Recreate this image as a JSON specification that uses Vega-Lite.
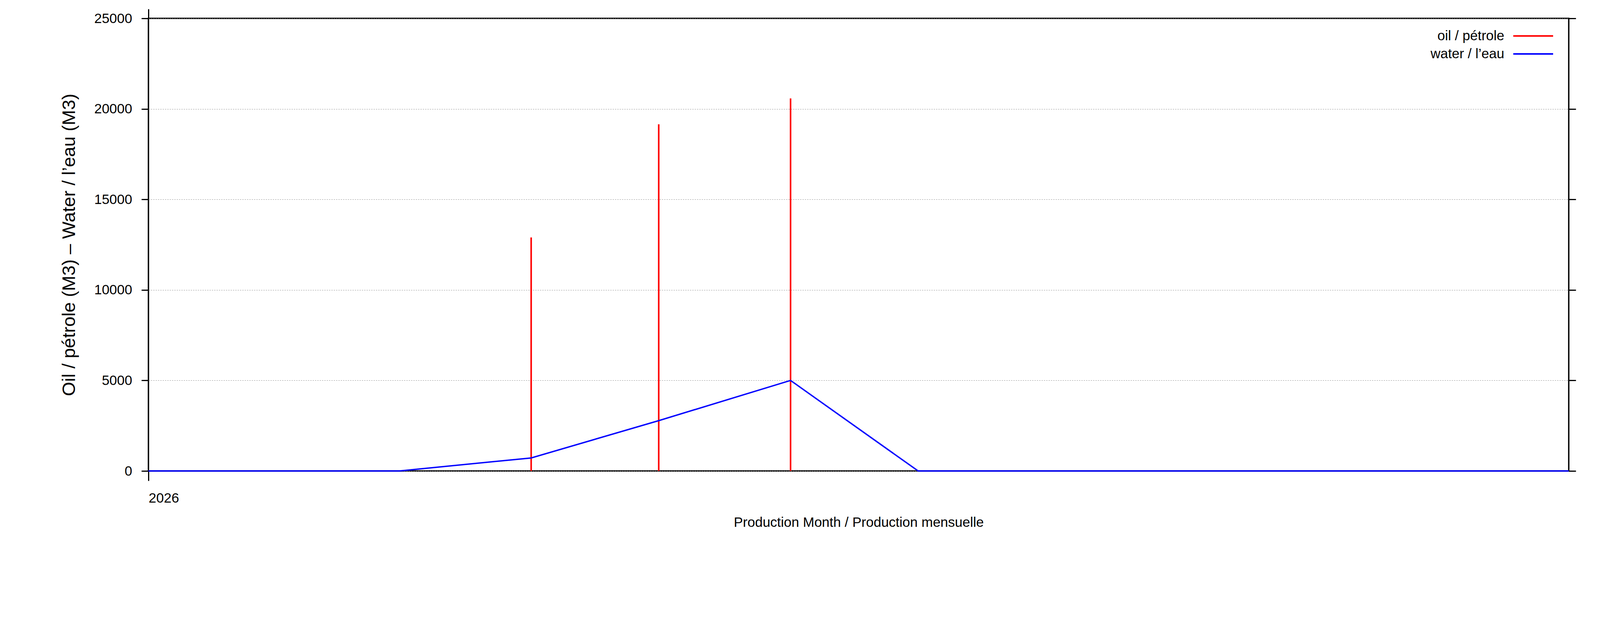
{
  "$schema": "https://vega.github.io/schema/vega-lite/v6.json",
  "width": 4112,
  "height": 1575,
  "autosize": {"type": "fit", "contains": "padding"},
  "padding": {"left": 153, "top": 21, "right": 76, "bottom": 221},
  "background": "white",

  "config": {
    "font": "Liberation Sans",
    "view": {"stroke": "black", "strokeWidth": 3.5},
    "axis": {
      "labelFont": "Liberation Sans",
      "titleFont": "Liberation Sans",
      "labelFontSize": 35,
      "titleFontSize": 35,
      "labelColor": "black",
      "titleColor": "black",
      "titleFontWeight": "normal",
      "tickColor": "black",
      "tickWidth": 3,
      "domain": false
    },
    "legend": {
      "labelFont": "Liberation Sans",
      "labelFontSize": 35,
      "labelColor": "black"
    }
  },

  "data": {
    "values": [
      {"month": "2026-01-01", "series": "oil / pétrole", "value": 0},
      {"month": "2026-02-01", "series": "oil / pétrole", "value": 0},
      {"month": "2026-03-01", "series": "oil / pétrole", "value": 0},
      {"month": "2026-04-01", "series": "oil / pétrole", "value": 12900},
      {"month": "2026-05-01", "series": "oil / pétrole", "value": 19150},
      {"month": "2026-06-01", "series": "oil / pétrole", "value": 20580},
      {"month": "2026-07-01", "series": "oil / pétrole", "value": 0},
      {"month": "2026-08-01", "series": "oil / pétrole", "value": 0},
      {"month": "2026-09-01", "series": "oil / pétrole", "value": 0},
      {"month": "2026-10-01", "series": "oil / pétrole", "value": 0},
      {"month": "2026-11-01", "series": "oil / pétrole", "value": 0},
      {"month": "2026-12-01", "series": "oil / pétrole", "value": 0},
      {"month": "2026-01-01", "series": "water / l’eau", "value": 0},
      {"month": "2026-02-01", "series": "water / l’eau", "value": 0},
      {"month": "2026-03-01", "series": "water / l’eau", "value": 0},
      {"month": "2026-04-01", "series": "water / l’eau", "value": 720},
      {"month": "2026-05-01", "series": "water / l’eau", "value": 2780},
      {"month": "2026-06-01", "series": "water / l’eau", "value": 5000},
      {"month": "2026-07-01", "series": "water / l’eau", "value": 0},
      {"month": "2026-08-01", "series": "water / l’eau", "value": 0},
      {"month": "2026-09-01", "series": "water / l’eau", "value": 0},
      {"month": "2026-10-01", "series": "water / l’eau", "value": 0},
      {"month": "2026-11-01", "series": "water / l’eau", "value": 0},
      {"month": "2026-12-01", "series": "water / l’eau", "value": 0}
    ]
  },

  "resolve": {"axis": {"x": "independent", "y": "independent"}},

  "layer": [
    {
      "transform": [{"filter": "datum.series == 'oil / pétrole'"}],
      "mark": {"type": "rule", "strokeWidth": 4},
      "encoding": {
        "x": {
          "field": "month",
          "type": "temporal",
          "scale": {
            "type": "utc",
            "domain": [
              {"year": 2026, "month": 1, "date": 1, "utc": true},
              {"year": 2026, "month": 12, "date": 1, "utc": true}
            ]
          },
          "axis": {
            "orient": "bottom",
            "title": "Production Month / Production mensuelle",
            "values": [{"year": 2026, "month": 1, "date": 1, "utc": true}],
            "format": "%Y",
            "grid": false,
            "tickSize": 25,
            "labelPadding": 27,
            "titlePadding": 27
          }
        },
        "y": {
          "field": "value",
          "type": "quantitative",
          "scale": {"domain": [0, 25000], "nice": false},
          "axis": {
            "orient": "left",
            "title": "Oil / pétrole (M3)  –  Water / l’eau (M3)",
            "titleFontSize": 47,
            "values": [0, 5000, 10000, 15000, 20000, 25000],
            "format": "d",
            "tickSize": 18,
            "labelPadding": 24,
            "titlePadding": 39,
            "grid": true,
            "gridColor": "#8c8c8c",
            "gridWidth": 1.2,
            "gridDash": [3, 3]
          }
        },
        "y2": {"datum": 0},
        "color": {
          "field": "series",
          "type": "nominal",
          "scale": {
            "domain": ["oil / pétrole", "water / l’eau"],
            "range": ["#ff0000", "#0000ff"]
          },
          "legend": {
            "title": null,
            "orient": "none",
            "legendX": 3526,
            "legendY": 26,
            "padding": 0,
            "symbolType": "M-3,0H3",
            "symbolSize": 1156,
            "symbolStrokeWidth": 4,
            "labelAlign": "right",
            "labelOffset": -93,
            "labelLimit": 600,
            "rowPadding": 9
          }
        }
      }
    },
    {
      "transform": [{"filter": "datum.series == 'water / l’eau'"}],
      "mark": {"type": "line", "strokeWidth": 3.5},
      "encoding": {
        "x": {
          "field": "month",
          "type": "temporal",
          "axis": {
            "orient": "top",
            "title": null,
            "values": [{"year": 2026, "month": 1, "date": 1, "utc": true}],
            "labels": false,
            "grid": false,
            "tickSize": 24
          }
        },
        "y": {
          "field": "value",
          "type": "quantitative",
          "axis": {
            "orient": "right",
            "title": null,
            "values": [0, 5000, 10000, 15000, 20000, 25000],
            "labels": false,
            "grid": false,
            "tickSize": 18
          }
        },
        "color": {"field": "series", "type": "nominal", "legend": null}
      }
    }
  ]
}
